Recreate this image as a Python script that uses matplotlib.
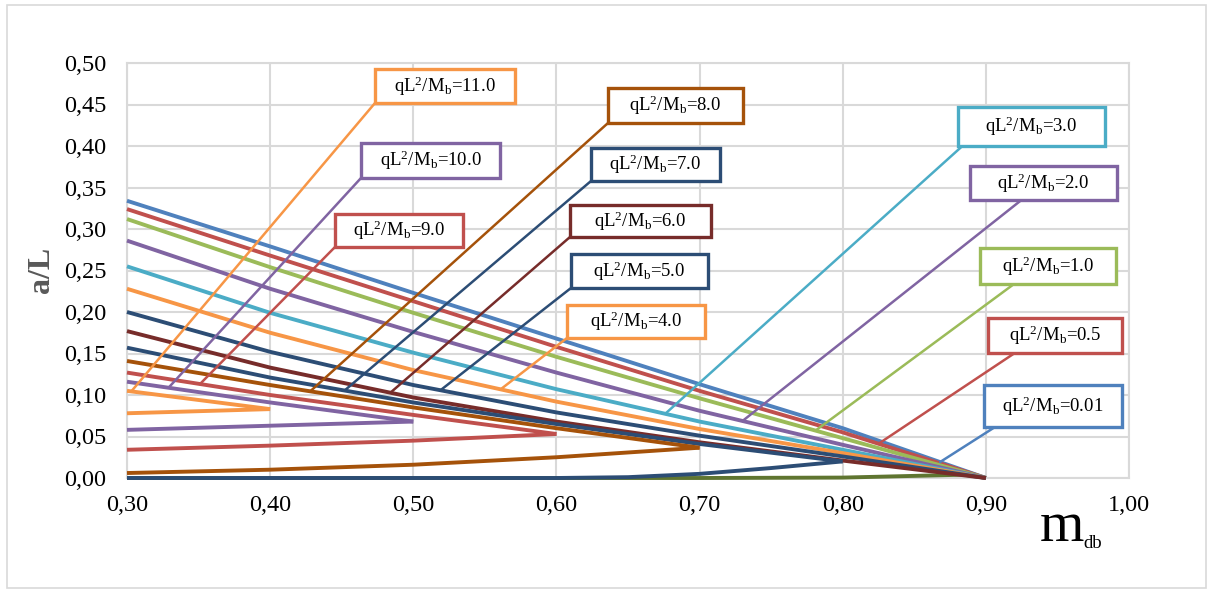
import numpy as np
import matplotlib
matplotlib.use('Agg')
import matplotlib.pyplot as plt
from matplotlib.patches import Rectangle

plt.rcParams['font.family'] = ['Liberation Serif', 'DejaVu Serif']
plt.rcParams['mathtext.fontset'] = 'custom'
plt.rcParams['mathtext.rm'] = 'Liberation Serif'
plt.rcParams['mathtext.it'] = 'Liberation Serif:italic'

# qL^2/Mb values, one series each
q_labels = ['0.01', '0.5', '1.0', '2.0', '3.0', '4.0', '5.0', '6.0',
            '7.0', '8.0', '9.0', '10.0', '11.0']
colors = ['#4F81BD', '#C0504D', '#9BBB59', '#8064A2', '#4BACC6', '#F79646',
          '#2C4D75', '#772C2A', '#2C4D75', '#A5520A', '#C0504D', '#8064A2',
          '#F79646']

# upper branches (a/L vs m_db)
m_full = [0.30, 0.40, 0.50, 0.60, 0.70, 0.80, 0.90]
a_q001 = [0.334, 0.279, 0.223, 0.168, 0.113, 0.060, 0.0]
a_q05 = [0.324, 0.268, 0.213, 0.158, 0.105, 0.055, 0.0]
a_q1 = [0.312, 0.254, 0.199, 0.146, 0.096, 0.048, 0.0]
a_q2 = [0.286, 0.228, 0.176, 0.127, 0.081, 0.040, 0.0]
a_q3 = [0.255, 0.199, 0.151, 0.107, 0.068, 0.034, 0.0]
a_q4 = [0.228, 0.175, 0.130, 0.092, 0.059, 0.030, 0.0]
a_q5 = [0.200, 0.152, 0.112, 0.079, 0.051, 0.026, 0.0]
a_q6 = [0.177, 0.133, 0.097, 0.068, 0.043, 0.021, 0.0]
m_q7 = [0.30, 0.40, 0.50, 0.60, 0.70, 0.80]
a_q7 = [0.157, 0.121, 0.091, 0.065, 0.041, 0.020]
m_q8 = [0.30, 0.40, 0.50, 0.60, 0.70]
a_q8 = [0.141, 0.112, 0.085, 0.060, 0.0365]
m_q9 = [0.30, 0.40, 0.50, 0.60]
a_q9 = [0.127, 0.100, 0.076, 0.053]
m_q10 = [0.30, 0.40, 0.50]
a_q10 = [0.116, 0.091, 0.068]
m_q11 = [0.30, 0.40]
a_q11 = [0.105, 0.083]

# lower branches
lo_m6 = [0.30, 0.60, 0.70, 0.80, 0.885]
lo_a6 = [0.0, 0.0, 0.0, 0.0005, 0.004]
lo_m7 = [0.30, 0.40, 0.50, 0.60, 0.65, 0.70, 0.75, 0.80]
lo_a7 = [0.0, 0.0, 0.0, 0.0, 0.001, 0.005, 0.012, 0.020]
lo_m8 = [0.30, 0.40, 0.50, 0.60, 0.70]
lo_a8 = [0.006, 0.010, 0.016, 0.025, 0.0365]
lo_m9 = [0.30, 0.40, 0.50, 0.60]
lo_a9 = [0.034, 0.039, 0.045, 0.053]
lo_m10 = [0.30, 0.40, 0.50]
lo_a10 = [0.058, 0.063, 0.068]
lo_m11 = [0.30, 0.40]
lo_a11 = [0.078, 0.083]

upper = [(m_full, a_q001), (m_full, a_q05), (m_full, a_q1), (m_full, a_q2),
         (m_full, a_q3), (m_full, a_q4), (m_full, a_q5), (m_full, a_q6),
         (m_q7, a_q7), (m_q8, a_q8), (m_q9, a_q9), (m_q10, a_q10),
         (m_q11, a_q11)]
lower = [(lo_m6, lo_a6, '#5F7530'), (lo_m7, lo_a7, colors[8]),
         (lo_m8, lo_a8, colors[9]), (lo_m9, lo_a9, colors[10]),
         (lo_m10, lo_a10, colors[11]), (lo_m11, lo_a11, colors[12])]

# callout boxes in pixels of the 1213x591 picture: left, top, right, bottom
box_px = [(984, 385, 1122, 427), (988, 318, 1122, 353), (980, 248, 1116, 284),
          (970, 166, 1117, 200), (958, 107, 1105, 146), (567, 305, 705, 338),
          (571, 254, 708, 288), (570, 205, 711, 237), (591, 148, 720, 181),
          (608, 88, 743, 123), (335, 214, 463, 247), (361, 143, 500, 178),
          (375, 69, 515, 103)]
lead_start = [0.08, 0.2, 0.25, 0.35, 0.03, 0, 0, 0, 0, 0, 0, 0, 0]
lead_m = [0.868, 0.825, 0.781, 0.73, 0.676, 0.561, 0.519, 0.484, 0.452,
          0.428, 0.351, 0.329, 0.303]

W, H = 1213, 591
fig = plt.figure(figsize=(W / 100, H / 100), dpi=100)
ax = fig.add_axes([127 / W, 1 - 478 / H, (1129 - 127) / W, (478 - 63) / H])

fig.patches.append(Rectangle((7 / W, 1 - 588 / H), (1206 - 7) / W, (588 - 5) / H,
                             transform=fig.transFigure, fill=False,
                             edgecolor='#D9D9D9', lw=1.2))

for m, a, c in lower:
    ax.plot(m, a, color=c, lw=2.8, clip_on=False, solid_capstyle='butt',
            zorder=3)
for (m, a), c in zip(upper, colors):
    ax.plot(m, a, color=c, lw=2.8, clip_on=False, solid_capstyle='butt',
            zorder=3)

ax.set_xlim(0.3, 1.0)
ax.set_ylim(0, 0.5)
ax.set_xticks(np.arange(0.3, 1.001, 0.1))
ax.set_yticks(np.arange(0, 0.501, 0.05))
ax.set_xticklabels([f'{v:.2f}'.replace('.', ',') for v in ax.get_xticks()])
ax.set_yticklabels([f'{v:.2f}'.replace('.', ',') for v in ax.get_yticks()])
ax.tick_params(length=0, labelsize=17.5)
ax.tick_params(axis='y', pad=15)
ax.tick_params(axis='x', pad=12)
ax.grid(True, color='#D9D9D9', lw=1.5)
ax.set_axisbelow(True)
for s in ax.spines.values():
    s.set_color('#D9D9D9')
    s.set_linewidth(1.5)

fig.text(41 / W, 1 - 270 / H, 'a/L', rotation=90, fontsize=23,
         fontweight='bold', color='#595959', ha='center', va='center')
fig.text(1040 / W, 1 - 541 / H, 'm', fontsize=41, ha='left', va='baseline')
fig.text(1083 / W, 1 - 548 / H, 'db', fontsize=13.5, ha='left', va='baseline')

for i, q in enumerate(q_labels):
    l, t, r, b = box_px[i]
    c = colors[i]
    fig.patches.append(Rectangle((l / W, 1 - b / H), (r - l) / W, (b - t) / H,
                                 transform=fig.transFigure, facecolor='white',
                                 edgecolor=c, lw=2.4, zorder=5))
    fig.text((l + r) / 2 / W, 1 - (t + b) / 2 / H,
             'qL$^{2}$/M$_{\\mathrm{b}}$=' + q, fontsize=13.5,
             ha='center', va='center', zorder=6)
    m, a = upper[i]
    ty = np.interp(lead_m[i], m, a)
    sx = (l + lead_start[i] * (r - l)) / W
    ax.annotate('', xy=(lead_m[i], ty), xycoords='data',
                xytext=(sx, 1 - b / H), textcoords='figure fraction',
                arrowprops=dict(arrowstyle='-', color=c, lw=1.8,
                                shrinkA=0, shrinkB=0), zorder=4)

fig.savefig('out.png', dpi=100)
